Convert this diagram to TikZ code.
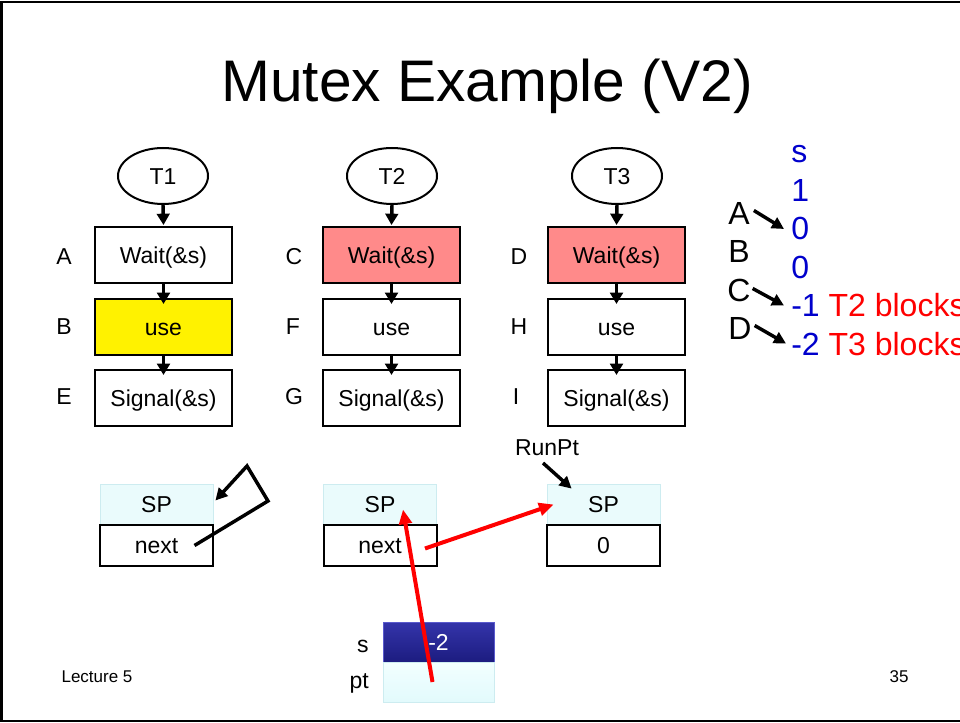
\documentclass[tikz,border=0pt]{standalone}
\usepackage{fontspec}
\setmainfont{Liberation Sans}
\usetikzlibrary{arrows.meta,calc,shapes.geometric}
\definecolor{pinkfill}{RGB}{255,138,138}
\definecolor{spfill}{RGB}{234,251,252}
\definecolor{spline}{RGB}{205,236,240}
\definecolor{bluetxt}{RGB}{0,0,204}
\definecolor{navytop}{RGB}{52,52,170}
\definecolor{navybot}{RGB}{28,28,128}
\definecolor{navyline}{RGB}{90,90,205}
\definecolor{pttop}{RGB}{242,255,255}
\definecolor{ptbot}{RGB}{226,250,252}
\begin{document}
\begin{tikzpicture}[x=0.75pt,y=-0.75pt,
  base/.style={font=\fontsize{17.25}{20}\selectfont, inner sep=0pt},
  boxtxt/.style={base, text height=12.4pt, text depth=0pt},
  stepbox/.style={boxtxt, draw, line width=1.5pt, minimum width=102.75pt, minimum height=42pt},
  thread/.style={boxtxt, ellipse, draw, line width=1.5pt, minimum width=67.5pt, minimum height=42pt},
  flow/.style={line width=2.6pt, -{Triangle[length=8.5pt,width=9.5pt]}},
  spcell/.style={boxtxt, draw=spline, line width=0.6pt, fill=spfill, minimum width=84.75pt, minimum height=30.75pt},
  nextcell/.style={boxtxt, draw, line width=1.5pt, fill=white, minimum width=84.75pt, minimum height=30.75pt},
  big/.style={font=\fontsize{24}{28}\selectfont, inner sep=0pt},
  redarr/.style={red, line width=3pt, -{Triangle[length=11pt,width=9.5pt]}},
  blkarr/.style={line width=2.6pt, -{Triangle[length=9pt,width=9pt]}}
]
\useasboundingbox (0,0) rectangle (960,723);
\clip (0,0) rectangle (960,723);
\fill[white] (0,0) rectangle (960,723);
\draw[line width=1.5pt] (1.5,2) rectangle (990,721);

% title
\node[font=\fontsize{44}{50}\selectfont, inner sep=0pt, anchor=base] (title) at (487,102) {Mutex Example (V2)};

% threads
\node[thread] (t1) at (163,176) {T1};
\node[thread] (t2) at (392,176) {T2};
\node[thread] (t3) at (617,176) {T3};

% column 1
\node[stepbox] (a) at (163.5,255) {Wait(\&s)};
\node[stepbox, fill=yellow] (b) at (163.5,327) {use};
\node[stepbox] (e) at (163.5,398) {Signal(\&s)};
% column 2
\node[stepbox, fill=pinkfill] (c) at (391.5,255) {Wait(\&s)};
\node[stepbox] (f) at (391.5,327) {use};
\node[stepbox] (g) at (391.5,398) {Signal(\&s)};
% column 3
\node[stepbox, fill=pinkfill] (d) at (616.5,255) {Wait(\&s)};
\node[stepbox] (h) at (616.5,327) {use};
\node[stepbox] (i) at (616.5,398) {Signal(\&s)};

% labels
\node[boxtxt] (la) at (64,256) {A};
\node[boxtxt] (lb) at (64,326) {B};
\node[boxtxt] (le) at (64,396) {E};
\node[boxtxt] (lc) at (294,256) {C};
\node[boxtxt] (lf) at (293,326) {F};
\node[boxtxt] (lg) at (294,396) {G};
\node[boxtxt] (ld) at (519,256) {D};
\node[boxtxt] (lh) at (519,326) {H};
\node[boxtxt] (li) at (516,396) {I};

% flow arrows
\draw[flow] (t1.south) -- ($(a.north)+(0,-1)$);
\draw[flow] (a.south) -- ($(b.north)+(0,6)$);
\draw[flow] (b.south) -- ($(e.north)+(0,6)$);
\draw[flow] (t2.south) -- ($(c.north)+(0,-1)$);
\draw[flow] (c.south) -- ($(f.north)+(0,6)$);
\draw[flow] (f.south) -- ($(g.north)+(0,6)$);
\draw[flow] (t3.south) -- ($(d.north)+(0,-1)$);
\draw[flow] (d.south) -- ($(h.north)+(0,6)$);
\draw[flow] (h.south) -- ($(i.north)+(0,6)$);

% right side trace
\node[big, text=bluetxt, anchor=base west] (rs) at (791,163) {s};
\node[big, text=bluetxt, anchor=base west] (r1) at (791,202) {1};
\node[big, text=bluetxt, anchor=base west] (r2) at (791,240) {0};
\node[big, text=bluetxt, anchor=base west] (r3) at (791,279) {0};
\node[big, text=bluetxt, anchor=base west] (r4) at (791,317) {-1 \textcolor{red}{T2 blocks}};
\node[big, text=bluetxt, anchor=base west] (r5) at (791,356) {-2 \textcolor{red}{T3 blocks}};
\node[big, anchor=base west] (ra) at (728,225) {A};
\node[big, anchor=base west] (rb) at (728,263) {B};
\node[big, anchor=base west] (rc) at (727,302) {C};
\node[big, anchor=base west] (rd) at (728,340) {D};
\draw[blkarr] ($(ra.east)+(4,-3.5)$) -- ($(r2.west)+(-7,0)$);
\draw[blkarr] ($(rc.east)+(2,-2.5)$) -- ($(r4.west)+(-7,0)$);
\draw[blkarr] ($(rd.east)+(3,-3.5)$) -- ($(r5.west)+(-5,-1)$);

% linked list cells
\node[spcell] (sp1) at (156.5,504.5) {SP};
\node[nextcell] (n1) at (156.5,545.5) {next};
\node[spcell] (sp2) at (380,504.5) {SP};
\node[nextcell] (n2) at (380,545.5) {next};
\node[spcell] (sp3) at (603.5,504.5) {SP};
\node[nextcell] (n3) at (603.5,545.5) {0};
\node[base] (runpt) at (547,448) {RunPt};

% semaphore
\node[boxtxt, minimum width=83.25pt, minimum height=30pt, top color=navytop, bottom color=navybot, draw=navyline, line width=0.6pt, text=white] (sv) at (438.5,642) {-2};
\node[boxtxt, minimum width=83.25pt, minimum height=30pt, top color=pttop, bottom color=ptbot, draw=spline, line width=0.6pt] (ptv) at (438.5,682) {};
\node[base, anchor=base east] (slbl) at (369,652) {s};
\node[base, anchor=base east] (ptlbl) at (369,688) {pt};

% self loop
\coordinate (lp1) at (268,501);
\coordinate (lp2) at (247,466);
\draw[blkarr, line join=miter] ($(n1.center)+(38,0)$) -- (lp1) -- (lp2) -- ($(sp1.east)+(2,-4)$);

% RunPt arrow
\draw[blkarr] ($(runpt.center)+(-4,15)$) -- ($(sp3.north west)+(25,5)$);

% red arrows
\draw[redarr] ($(n2.center)+(45,3)$) -- ($(sp3.west)+(7,0)$);
\draw[redarr] ($(ptv.center)+(-6,0)$) -- ($(sp2.center)+(23,5)$);

% footer
\node[font=\fontsize{12.75}{14}\selectfont, inner sep=0pt] (lec) at (97,677) {Lecture 5};
\node[font=\fontsize{12.75}{14}\selectfont, inner sep=0pt] (pg) at (899,677) {35};
\end{tikzpicture}
\end{document}
